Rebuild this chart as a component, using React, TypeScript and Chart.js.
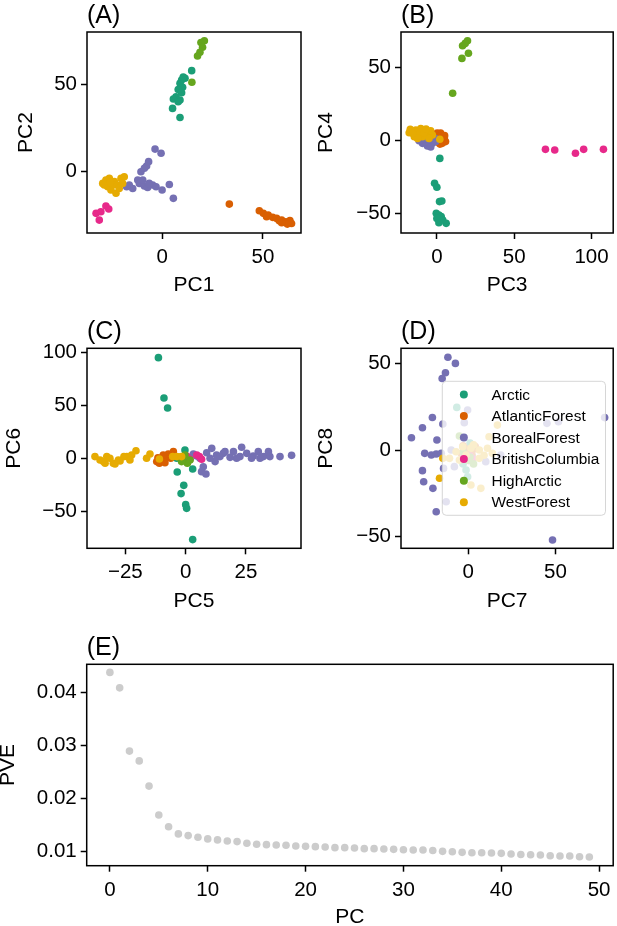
import React, { useEffect, useRef } from "react";
import { Chart, registerables } from "chart.js";

Chart.register(...registerables);

type Pt = [number, number];

// ---------------- groups ----------------
const GROUP_NAMES = ["Arctic", "AtlanticForest", "BorealForest", "BritishColumbia", "HighArctic", "WestForest"];
const GROUP_COLORS = ["#1b9e77", "#d95f02", "#7570b3", "#e7298a", "#66a61e", "#e6ab02"];

// ---------------- panel A: PC1 vs PC2 ----------------
const A_ARCTIC: Pt[] = [[14.6, 57.7], [11.3, 53.3], [9.6, 52.3], [8.8, 50.4], [10.1, 48.1], [7.9, 46.9], [9.6, 45.0], [6.8, 42.7], [5.5, 41.4], [8.8, 40.8], [7.9, 39.8], [5.1, 36.0], [8.8, 30.8], [10.4, 54.0]];
const A_ATLANTIC: Pt[] = [[33.3, -19.0], [48.2, -22.8], [50.2, -24.3], [52.6, -25.3], [54.8, -26.6], [56.8, -27.2], [59.3, -28.2], [61.4, -29.1], [63.4, -28.5], [62.1, -30.5], [59.3, -29.7], [64.2, -30.1], [51.8, -26.2], [58.1, -28.5]];
const A_BOREAL: Pt[] = [[-3.6, 12.6], [-0.6, 10.2], [-6.8, 5.4], [-7.8, 2.9], [-10.6, -0.4], [-8.9, 1.6], [-12.2, -5.2], [-16.4, -8.0], [-14.7, -10.0], [-11.4, -7.1], [-8.9, -8.6], [-7.3, -9.4], [-4.8, -8.0], [-3.1, -9.0], [-0.1, -10.9], [3.5, -7.7], [5.5, -15.7], [-17.7, -9.0], [-9.7, -5.2], [-6.5, -7.1]];
const A_BRITISH: Pt[] = [[-32.9, -24.3], [-30.5, -23.4], [-28.0, -20.1], [-26.6, -21.8], [-31.3, -28.2]];
const A_HIGH: Pt[] = [[19.2, 73.8], [20.9, 74.9], [20.0, 71.1], [18.7, 68.2], [17.5, 66.1], [14.7, 51.0]];
const A_WEST: Pt[] = [[-29.6, -7.1], [-28.0, -5.2], [-26.3, -4.2], [-23.8, -6.1], [-22.2, -8.0], [-20.5, -4.2], [-18.9, -3.3], [-25.5, -10.9], [-23.0, -12.8], [-27.1, -9.0], [-24.6, -8.0], [-21.4, -10.0], [-28.8, -8.0], [-19.7, -7.1], [-25.8, -6.6]];

// ---------------- panel B: PC3 vs PC4 ----------------
const B_ARCTIC: Pt[] = [[1.9, -12.6], [-1.5, -29.7], [0, -32.4], [1.7, -42.2], [3.2, -41.8], [-0.4, -50.2], [1.3, -51.4], [2.8, -52.5], [6.0, -57.1], [1.3, -56.6], [3.8, -54.8], [0, -53.7]];
const B_ATLANTIC: Pt[] = [[2.4, 4.7], [4.5, 2.5], [5.6, -1.1], [3.4, -2.3], [0.2, 4.7], [1.0, -1.5], [4.8, 0.5], [3.0, 1.5], [0.8, 2.5], [2.0, -2.8], [5.0, 3.0]];
const B_BOREAL: Pt[] = [[-9.3, -2.3], [-6.1, -4.1], [-2.9, -2.3], [-7.2, -1.1], [-0.8, -1.1], [-4.0, -4.8], [-11.5, -0.5], [-13.0, 2.0], [-10.0, 4.0], [-8.0, 1.0], [-5.0, 0], [-3.0, 2.0], [-12.0, 5.0], [-6.0, 3.0], [-1.0, 1.0]];
const B_BRITISH: Pt[] = [[70.2, -6.4], [76.2, -6.8], [89.6, -9.1], [94.9, -6.4], [107.7, -6.4]];
const B_HIGH: Pt[] = [[19.8, 68.0], [16.6, 64.6], [20.4, 59.4], [16.2, 55.9], [10.2, 32.0], [18.3, 66.2]];
const B_WEST: Pt[] = [[-17.9, 5.0], [-13.6, 6.8], [-10.4, 7.8], [-6.1, 5.7], [-2.9, 3.4], [-14.6, 2.3], [-9.3, 2.3], [-11.4, 4.1], [-5.1, 1.1], [-17.2, 7.3], [-8.3, 4.6], [-12.5, 1.1], [-4.0, 6.4], [1.9, 0.5], [-15.5, 4.5], [-7.0, 7.5]];

// ---------------- panel C: PC5 vs PC6 ----------------
const C_ARCTIC: Pt[] = [[-11.3, 95.0], [-9.0, 56.9], [-7.5, 47.5], [-0.3, 7.9], [-3.5, -12.9], [2.9, -10.1], [-0.8, -25.5], [-1.9, -33.3], [0, -43.7], [0.4, -47.2], [2.9, -76.7], [-3.7, 0]];
const C_ATLANTIC: Pt[] = [[-12.0, -3.1], [-9.9, -0.9], [-7.9, 1.6], [-6.2, 0], [-5.1, 6.3], [-10.9, -4.7], [-8.6, -4.1], [-7.2, 4.1], [-9.3, 3.1], [-4.5, 2.0], [-11.5, 0.5]];
const C_BOREAL: Pt[] = [[3.2, 4.1], [8.7, 5.3], [10.8, 9.4], [12.8, 3.1], [12.2, -3.1], [14.2, 1.6], [15.6, 4.7], [16.3, 6.3], [19.8, 6.3], [21.1, 0], [23.2, 10.4], [25.3, 4.7], [28.0, 2.2], [30.1, 6.3], [32.2, 1.6], [34.3, 6.3], [34.9, 1.6], [39.1, 1.6], [43.9, 2.8], [7.3, -7.9], [6.6, -12.6], [8.4, -14.8], [4.6, 2.2], [5.9, 0], [10.1, 0], [18.4, 0.9], [27.3, 0], [22.5, 1.6], [30.8, 0]];
const C_BRITISH: Pt[] = [[0.4, 2.2], [1.8, -0.9], [4.6, 3.1], [6.6, -0.9], [5.7, 1.6]];
const C_HIGH: Pt[] = [[0.7, -4.7], [-1.2, -0.9], [-2.6, 0.9], [1.8, -1.6], [-0.3, 3.1], [-1.7, -3.1]];
const C_WEST: Pt[] = [[-37.6, 1.6], [-35.5, -1.6], [-32.7, 1.6], [-34.1, -3.1], [-29.3, -5.3], [-27.2, -2.5], [-24.4, 1.6], [-22.4, 3.1], [-20.6, 7.2], [-16.2, 0], [-14.8, 4.1], [-10.9, -0.6], [-5.4, 1.6], [-3.7, 1.6], [-1.7, 1.6], [-33.4, -4.7], [-31.4, 0], [-25.6, 1.6], [-30.0, -4.7], [-27.9, -1.6], [-23.1, -1.6]];

// ---------------- panel D: PC7 vs PC8 ----------------
const D_ARCTIC: Pt[] = [[-6.6, 24.6], [-1.3, -11.5], [-0.4, -15.4], [2.0, -3.0], [-3.0, -8.0], [1.0, 4.0]];
const D_ATLANTIC: Pt[] = [[-4.0, -2.0], [-2.0, 1.0], [0.5, -1.0], [3.0, 0.5], [-1.0, -4.0], [2.0, -2.5], [4.0, 2.0], [-3.0, 2.5]];
const D_BOREAL: Pt[] = [[-11.7, 53.5], [-7.4, 50.0], [-13.1, 44.6], [-15.0, 41.3], [-20.6, 18.8], [-26.3, 12.9], [-14.6, 15.0], [-32.6, 7.1], [-18.0, 5.8], [-25.0, -1.9], [-21.2, -2.9], [-18.4, -2.3], [-15.5, -1.9], [-26.3, -11.9], [-25.6, -18.3], [-20.3, -22.1], [-18.4, -35.6], [48.3, -51.9], [78.2, 18.7], [-12.7, -29.8], [-0.4, 23.1], [-2.3, 15.8], [51.7, 16.3], [45.1, 15.4], [-9.8, 0], [-8.0, -9.6], [10.0, -6.7], [18.6, -2.9], [-14.2, -10.6]];
const D_BRITISH: Pt[] = [[-1.3, -4.8], [1.0, -3.5], [0.5, -6.0], [-2.5, -3.0], [2.5, -5.0]];
const D_HIGH: Pt[] = [[-5.1, 8.1], [3.0, -8.0], [1.0, -4.0], [0, -6.0], [-3.0, -1.0], [2.0, 2.0]];
const D_WEST: Pt[] = [[-16.5, -16.3], [-14.6, -4.8], [16.7, 14.4], [11.9, 7.7], [-3.2, 1.9], [1.5, 1.0], [6.3, 0], [11.0, 1.0], [-1.3, -2.9], [-10.8, -4.8], [-5.1, -5.8], [6.3, -4.8], [13.8, -1.9], [1.5, -20.2], [7.2, -22.1], [3.0, 3.0], [-7.0, -1.0], [9.0, -3.0]];

// ---------------- panel E: proportion of variance explained ----------------
const PC_INDEX = [0, 1, 2, 3, 4, 5, 6, 7, 8, 9, 10, 11, 12, 13, 14, 15, 16, 17, 18, 19, 20, 21, 22, 23, 24, 25, 26, 27, 28, 29, 30, 31, 32, 33, 34, 35, 36, 37, 38, 39, 40, 41, 42, 43, 44, 45, 46, 47, 48, 49];
const PVE = [0.04375, 0.04083, 0.02888, 0.02703, 0.02227, 0.0168, 0.01458, 0.01324, 0.01292, 0.01261, 0.01229, 0.0121, 0.01191, 0.01178, 0.01146, 0.01127, 0.01121, 0.01114, 0.01108, 0.01095, 0.01089, 0.01083, 0.01076, 0.01064, 0.01064, 0.01057, 0.01045, 0.01045, 0.01038, 0.01032, 0.01025, 0.01019, 0.01019, 0.0101, 0.00994, 0.00987, 0.00975, 0.00968, 0.00968, 0.00962, 0.00956, 0.00943, 0.00936, 0.0093, 0.00924, 0.00911, 0.00905, 0.00905, 0.00892, 0.00886];

// ---------------- ticks ----------------
const A_XTICKS = [0, 50];
const A_YTICKS = [0, 50];
const B_XTICKS = [0, 50, 100];
const B_YTICKS = [-50, 0, 50];
const C_XTICKS = [-25, 0, 25];
const C_YTICKS = [-50, 0, 50, 100];
const D_XTICKS = [0, 50];
const D_YTICKS = [-50, 0, 50];
const E_XTICKS = [0, 10, 20, 30, 40, 50];
const E_YTICKS = [0.01, 0.02, 0.03, 0.04];

// ---------------- layout / style ----------------
const W = 617;
const H = 926;
const FONT = "'Liberation Sans', Arial, Helvetica, sans-serif";
const TICK_FONT = 20.5;
const LABEL_FONT = 21;
const TITLE_FONT = 25;
const LEGEND_FONT = 15.4;
const POINT_R = 3.8;
const PVE_COLOR = "#cccccc";

const fmtInt = (v: number) => String(Math.round(v)).replace("-", "\u2212");
const fmt2 = (v: number) => v.toFixed(2);

interface Series { label: string; color: string; points: Pt[] }
interface Panel {
  key: string;
  title: string;
  xLabel: string;
  yLabel: string;
  xRange: [number, number];
  yRange: [number, number];
  xTicks: number[];
  yTicks: number[];
  fmtX: (v: number) => string;
  fmtY: (v: number) => string;
  area: [number, number, number, number];
  xTitleCY: number;
  yTitleCX: number;
  series: Series[];
  legend?: boolean;
}

const groups = (pts: Pt[][]): Series[] =>
  pts.map((p, i) => ({ label: GROUP_NAMES[i], color: GROUP_COLORS[i], points: p }));

const PVE_POINTS: Pt[] = PC_INDEX.map((x, i) => [x, PVE[i]]);

const PANELS: Panel[] = [
  {
    key: "A", title: "(A)", xLabel: "PC1", yLabel: "PC2",
    xRange: [-37.4, 68.9], yRange: [-35.6, 79.9], xTicks: A_XTICKS, yTicks: A_YTICKS,
    fmtX: fmtInt, fmtY: fmtInt, area: [87, 32, 301, 233], xTitleCY: 285, yTitleCX: 26,
    series: groups([A_ARCTIC, A_ATLANTIC, A_BOREAL, A_BRITISH, A_HIGH, A_WEST]),
  },
  {
    key: "B", title: "(B)", xLabel: "PC3", yLabel: "PC4",
    xRange: [-23.2, 114], yRange: [-63.7, 74], xTicks: B_XTICKS, yTicks: B_YTICKS,
    fmtX: fmtInt, fmtY: fmtInt, area: [401, 32, 616, 233], xTitleCY: 285.5, yTitleCX: 326.5,
    series: groups([B_ARCTIC, B_ATLANTIC, B_BOREAL, B_BRITISH, B_HIGH, B_WEST]),
  },
  {
    key: "C", title: "(C)", xLabel: "PC5", yLabel: "PC6",
    xRange: [-40.9, 47.8], yRange: [-84.9, 103.8], xTicks: C_XTICKS, yTicks: C_YTICKS,
    fmtX: fmtInt, fmtY: fmtInt, area: [87, 348.3, 301, 548.3], xTitleCY: 601, yTitleCX: 14.2,
    series: groups([C_ARCTIC, C_ATLANTIC, C_BOREAL, C_BRITISH, C_HIGH, C_WEST]),
  },
  {
    key: "D", title: "(D)", xLabel: "PC7", yLabel: "PC8",
    xRange: [-38.6, 83.1], yRange: [-56.7, 58.7], xTicks: D_XTICKS, yTicks: D_YTICKS,
    fmtX: fmtInt, fmtY: fmtInt, area: [401, 348.3, 615.3, 548.3], xTitleCY: 601, yTitleCX: 326.5,
    series: groups([D_ARCTIC, D_ATLANTIC, D_BOREAL, D_BRITISH, D_HIGH, D_WEST]), legend: true,
  },
  {
    key: "E", title: "(E)", xLabel: "PC", yLabel: "PVE",
    xRange: [-2.37, 51.44], yRange: [0.00723, 0.04528], xTicks: E_XTICKS, yTicks: E_YTICKS,
    fmtX: fmtInt, fmtY: fmt2, area: [86.7, 664.3, 615.7, 865.7], xTitleCY: 917, yTitleCX: 8.5,
    series: [{ label: "PVE", color: PVE_COLOR, points: PVE_POINTS }],
  },
];

// ---------------- plugins ----------------
const framePlugin = {
  id: "frame",
  afterDatasetsDraw(chart: any) {
    const { ctx, chartArea: a } = chart;
    ctx.save();
    ctx.strokeStyle = "#000";
    ctx.lineWidth = 1.5;
    ctx.strokeRect(a.left, a.top, a.right - a.left, a.bottom - a.top);
    ctx.restore();
  },
};

const titlePlugin = (text: string) => ({
  id: "panelTitle",
  afterDraw(chart: any) {
    const { ctx, chartArea: a } = chart;
    ctx.save();
    ctx.font = `${TITLE_FONT}px ${FONT}`;
    ctx.fillStyle = "#000";
    ctx.textAlign = "left";
    ctx.textBaseline = "alphabetic";
    ctx.fillText(text, a.left, a.top - 9);
    ctx.restore();
  },
});

const legendPlugin = (series: Series[]) => ({
  id: "insetLegend",
  afterDraw(chart: any) {
    const { ctx, chartArea: a } = chart;
    const fs = LEGEND_FONT;
    ctx.save();
    ctx.font = `${fs}px ${FONT}`;
    const textW = Math.max(...series.map((s) => ctx.measureText(s.label).width));
    const pad = 0.4 * fs;
    const handle = 2 * fs;
    const gap = 0.8 * fs;
    const rowH = 0.9 * fs;
    const spacing = 0.5 * fs;
    const w = pad + handle + gap + textW + pad;
    const h = series.length * rowH + (series.length - 1) * spacing + 2 * pad;
    const x1 = a.right - 0.5 * fs;
    const x0 = x1 - w;
    const y0 = (a.top + a.bottom) / 2 - h / 2;
    const r = 4;
    ctx.beginPath();
    ctx.moveTo(x0 + r, y0);
    ctx.lineTo(x1 - r, y0);
    ctx.quadraticCurveTo(x1, y0, x1, y0 + r);
    ctx.lineTo(x1, y0 + h - r);
    ctx.quadraticCurveTo(x1, y0 + h, x1 - r, y0 + h);
    ctx.lineTo(x0 + r, y0 + h);
    ctx.quadraticCurveTo(x0, y0 + h, x0, y0 + h - r);
    ctx.lineTo(x0, y0 + r);
    ctx.quadraticCurveTo(x0, y0, x0 + r, y0);
    ctx.closePath();
    ctx.fillStyle = "rgba(255,255,255,0.8)";
    ctx.fill();
    ctx.strokeStyle = "rgba(204,204,204,0.8)";
    ctx.lineWidth = 1;
    ctx.stroke();
    series.forEach((s, i) => {
      const cy = y0 + pad + rowH / 2 + i * (rowH + spacing);
      ctx.beginPath();
      ctx.arc(x0 + pad + handle / 2, cy, POINT_R + 0.2, 0, Math.PI * 2);
      ctx.fillStyle = s.color;
      ctx.fill();
      ctx.fillStyle = "#000";
      ctx.textAlign = "left";
      ctx.textBaseline = "middle";
      ctx.fillText(s.label, x0 + pad + handle + gap, cy + 1);
    });
    ctx.restore();
  },
});

// ---------------- config ----------------
function buildConfig(p: Panel): any {
  const [L, T, R, B] = p.area;
  const half = (LABEL_FONT * 1.2) / 2;
  const slRaw = p.yTitleCX - half;
  const scaleLeft = Math.max(0, slRaw);
  const padT = slRaw - scaleLeft;
  const sbRaw = p.xTitleCY + half;
  const scaleBottom = Math.min(H, sbRaw);
  const padB = scaleBottom - sbRaw;
  const axW = L - scaleLeft;
  const axH = scaleBottom - B;

  const grid = {
    display: true,
    drawOnChartArea: false,
    drawTicks: true,
    tickLength: 6,
    tickWidth: 1.5,
    tickColor: "#000",
    color: "#000",
  };

  const datasets = p.series.map((s, i) => ({
    type: "scatter",
    label: s.label,
    data: s.points.map(([x, y]) => ({ x, y })),
    backgroundColor: s.color,
    borderColor: s.color,
    pointRadius: POINT_R,
    pointHoverRadius: POINT_R,
    pointBorderWidth: 0,
    showLine: false,
    order: -i,
  }));

  const plugins: any[] = [framePlugin, titlePlugin(p.title)];
  if (p.legend) plugins.push(legendPlugin(p.series));

  return {
    type: "scatter",
    data: { datasets },
    plugins,
    options: {
      responsive: false,
      maintainAspectRatio: false,
      animation: false,
      events: [],
      layout: { padding: { left: scaleLeft, top: T, right: W - R, bottom: H - scaleBottom } },
      plugins: { legend: { display: false }, tooltip: { enabled: false }, title: { display: false } },
      scales: {
        x: {
          type: "linear",
          position: "bottom",
          min: p.xRange[0],
          max: p.xRange[1],
          afterBuildTicks: (s: any) => { s.ticks = p.xTicks.map((v) => ({ value: v })); },
          afterFit: (s: any) => { s.height = axH; },
          ticks: {
            callback: (v: any) => p.fmtX(Number(v)),
            font: { family: FONT, size: TICK_FONT },
            color: "#000",
            padding: 6,
            maxRotation: 0,
            minRotation: 0,
            autoSkip: false,
          },
          grid,
          border: { display: false },
          title: {
            display: true,
            text: p.xLabel,
            color: "#000",
            font: { family: FONT, size: LABEL_FONT },
            padding: { top: 0, bottom: padB },
          },
        },
        y: {
          type: "linear",
          position: "left",
          min: p.yRange[0],
          max: p.yRange[1],
          afterBuildTicks: (s: any) => { s.ticks = p.yTicks.map((v) => ({ value: v })); },
          afterFit: (s: any) => { s.width = axW; },
          ticks: {
            callback: (v: any) => p.fmtY(Number(v)),
            font: { family: FONT, size: TICK_FONT },
            color: "#000",
            padding: 4,
            autoSkip: false,
          },
          grid,
          border: { display: false },
          title: {
            display: true,
            text: p.yLabel,
            color: "#000",
            font: { family: FONT, size: LABEL_FONT },
            padding: { top: padT, bottom: 0 },
          },
        },
      },
    },
  };
}

function PanelCanvas({ panel }: { panel: Panel }) {
  const ref = useRef<HTMLCanvasElement | null>(null);
  useEffect(() => {
    if (!ref.current) return;
    const chart = new Chart(ref.current, buildConfig(panel));
    return () => chart.destroy();
  }, [panel]);
  return (
    <canvas
      ref={ref}
      width={W}
      height={H}
      style={{ position: "absolute", left: 0, top: 0, width: W, height: H }}
    />
  );
}

export default function App() {
  return (
    <div
      style={{
        position: "fixed",
        left: 0,
        top: 0,
        width: W,
        height: H,
        background: "#ffffff",
        overflow: "hidden",
      }}
    >
      {PANELS.map((p) => (
        <PanelCanvas key={p.key} panel={p} />
      ))}
    </div>
  );
}
